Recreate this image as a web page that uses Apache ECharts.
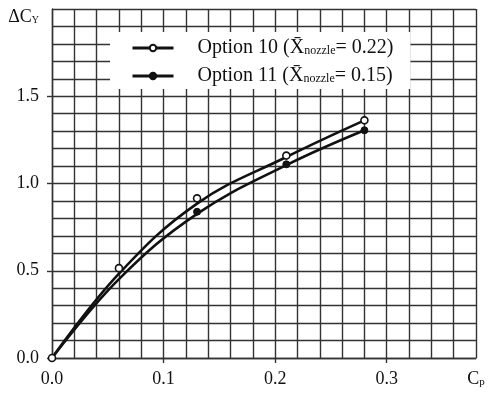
<!DOCTYPE html>
<html>
<head>
<meta charset="utf-8">
<script src="https://cdn.jsdelivr.net/npm/echarts@6/dist/echarts.min.js"></script>
<style>html,body{margin:0;padding:0;background:#fff;}#c{width:495px;height:394px;}</style>
</head>
<body>
<div id="c"></div>
<script>
const opt10X = [0.0, 0.06, 0.13, 0.21, 0.28];
const opt10Y = [0.0, 0.515, 0.915, 1.16, 1.362];
const opt11X = [0.13, 0.21, 0.28];
const opt11Y = [0.838, 1.11, 1.305];
// Fitted curves
const fit10X = [0.0, 0.06, 0.13, 0.21, 0.28];
const fit10Y = [0.0, 0.483, 0.885, 1.152, 1.362];
const fit11X = [0.0, 0.06, 0.13, 0.21, 0.28];
const fit11Y = [0.0, 0.452, 0.826, 1.105, 1.305];
const seriesNames = ['Option 10', 'Option 11'];
const seriesNozzle = ['0.22', '0.15'];
const xTickValues = [0.1, 0.2, 0.3];
const xLabelValues = [0.0, 0.1, 0.2, 0.3, 0.38];
const yTickValues = [0.0, 0.5, 1.0, 1.5];
const yLabelValues = [0.0, 0.5, 1.0, 1.5, 2.0];

const FONT = '"Liberation Serif", "Times New Roman", serif';
const chart = echarts.init(document.getElementById('c'), null, {renderer: 'canvas'});
const lineCol = '#333';
const gridLine = {show: true, lineStyle: {color: lineCol, width: 1.4}};
const pairs = (xs, ys) => xs.map((x, i) => [x, ys[i]]);

chart.setOption({
  animation: false,
  backgroundColor: '#fff',
  grid: {left: 52, right: 19, top: 9, bottom: 36},
  legend: {
    orient: 'vertical',
    left: 110, top: 32,
    backgroundColor: '#fff',
    padding: [6, 17, 3, 21],
    itemGap: 8,
    itemWidth: 41, itemHeight: 8,
    lineStyle: {width: 3, color: '#111', opacity: 1},
    data: seriesNames,
    formatter: function (name) {
      const i = seriesNames.indexOf(name);
      return '{a|' + name + ' (X\u0304}{s|nozzle}{a|= ' + seriesNozzle[i] + ')}';
    },
    textStyle: {
      fontFamily: FONT, fontSize: 20, color: '#111', padding: [0, 0, 0, 19],
      rich: {
        a: {fontFamily: FONT, fontSize: 20, color: '#111', height: 21},
        s: {fontFamily: FONT, fontSize: 12, color: '#111', padding: [6, 0, 0, 0]}
      }
    }
  },
  xAxis: [{
    type: 'value', min: 0, max: 0.38, interval: 0.02,
    axisLine: {show: true, lineStyle: {color: lineCol, width: 1.4}},
    axisTick: {show: true, customValues: xTickValues, length: 5, inside: false, lineStyle: {color: lineCol, width: 1.4}},
    axisLabel: {
      customValues: xLabelValues, margin: 12,
      fontFamily: FONT, fontSize: 18, color: '#111',
      formatter: function (v) {
        if (Math.abs(v - 0.38) < 1e-6) return '{c|C}{s|p}';
        return v.toFixed(1);
      },
      rich: {
        c: {fontFamily: FONT, fontSize: 18, color: '#111'},
        s: {fontFamily: FONT, fontSize: 11, color: '#111', padding: [7, 0, 0, 0]}
      }
    },
    splitLine: {show: false}
  }, {
    type: 'value', min: 0, max: 0.38, interval: 0.02, position: 'bottom',
    axisLine: {show: false}, axisTick: {show: false}, axisLabel: {show: false},
    splitLine: gridLine
  }],
  yAxis: [{
    type: 'value', min: 0, max: 2.0, interval: 0.1,
    axisLine: {show: true, lineStyle: {color: lineCol, width: 1.4}},
    axisTick: {show: true, customValues: yTickValues, length: 5, inside: false, lineStyle: {color: lineCol, width: 1.4}},
    axisLabel: {
      customValues: yLabelValues, margin: 13,
      fontFamily: FONT, fontSize: 18, color: '#111',
      formatter: function (v) {
        if (Math.abs(v - 2.0) < 1e-6) return '{d|ΔC}{s|Y}';
        return v.toFixed(1);
      },
      rich: {
        d: {fontFamily: FONT, fontSize: 18, color: '#111', padding: [16, 0, 0, 0]},
        s: {fontFamily: FONT, fontSize: 10, color: '#111', padding: [22, 0, 0, 0]}
      }
    },
    splitLine: {show: false}
  }, {
    type: 'value', min: 0, max: 2.0, interval: 0.1, position: 'left',
    axisLine: {show: false}, axisTick: {show: false}, axisLabel: {show: false},
    splitLine: gridLine
  }],
  series: [
    {
      name: 'fit10', type: 'line', smooth: 0.4, symbol: 'none',
      data: pairs(fit10X, fit10Y),
      lineStyle: {color: '#111', width: 2.6}, z: 3
    },
    {
      name: 'fit11', type: 'line', smooth: 0.4, symbol: 'none',
      data: pairs(fit11X, fit11Y),
      lineStyle: {color: '#111', width: 2.6}, z: 3
    },
    {
      name: seriesNames[0], type: 'line',
      data: pairs(opt10X, opt10Y),
      symbol: 'circle', symbolSize: 7,
      itemStyle: {color: '#fff', borderColor: '#111', borderWidth: 1.6},
      lineStyle: {color: '#111', width: 3, opacity: 0},
      z: 6
    },
    {
      name: seriesNames[1], type: 'line',
      data: pairs(opt11X, opt11Y),
      symbol: 'circle', symbolSize: 7,
      itemStyle: {color: '#111', borderColor: '#111', borderWidth: 1},
      lineStyle: {color: '#111', width: 3, opacity: 0},
      z: 5
    }
  ]
});
</script>
</body>
</html>
